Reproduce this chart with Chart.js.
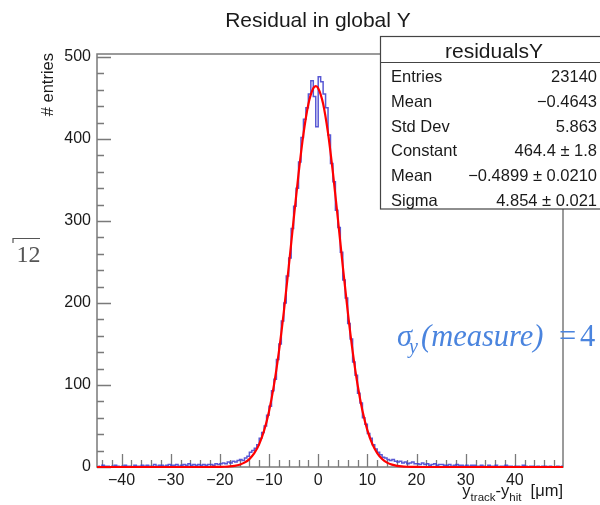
<!DOCTYPE html>
<html><head><meta charset="utf-8">
<script src="https://cdn.jsdelivr.net/npm/chart.js@4/dist/chart.umd.min.js"></script>
<style>html,body{margin:0;padding:0;background:#fff}canvas{display:block}</style>
</head><body>
<canvas id="c" width="600" height="505"></canvas>
<script>
// ---- data ----
const binLow = -45;
const binWidth = 0.5;
const counts = [
  1,0,2,1,1,0,1,2,1,0,
  1,2,1,1,0,2,1,1,2,1,
  2,1,1,3,1,2,2,1,2,3,
  2,2,3,1,2,3,2,4,2,3,
  2,3,2,3,2,3,3,2,4,3,
  4,5,4,6,5,7,6,8,9,8,
  11,13,18,20,23,27,35,42,50,63,
  74,93,107,131,150,178,200,233,255,291,
  318,340,372,402,424,438,455,471,452,415,
  476,470,455,438,405,370,348,313,292,262,
  228,206,175,156,128,112,90,78,60,52,
  41,35,27,22,18,15,12,11,9,8,
  9,7,6,7,5,6,4,5,6,4,
  4,3,5,3,4,2,3,4,2,3,
  3,2,2,3,1,2,3,2,2,1,
  2,1,2,2,1,1,2,1,0,2,
  1,1,2,0,1,1,2,1,1,0,
  1,1,0,2,1,0,1,1,0,1,
  0,1,1,0,1,0,0,1,0,1
];
const fitX = [-45,-22,-21,-20,-19,-18,-17,-16,-15,-14,-13,-12,-11,-10,-9,-8,-7,-6,-5,-4,-3,-2,-1,-0.5,0,1,2,3,4,5,6,7,8,9,10,11,12,13,14,15,16,17,18,19,20,21,22,49.8];
const fitY = [0,0.03,0.06,0.14,0.32,0.69,1.43,2.82,5.33,9.65,16.8,27.9,44.5,68.1,99.8,140.3,188.9,243.8,301.6,357.5,406.3,442.5,461.8,464.4,462.0,443.0,407.2,358.6,302.8,245.0,190.0,141.2,100.6,68.7,45.0,28.2,16.9,9.76,5.39,2.86,1.45,0.70,0.33,0.15,0.07,0.03,0.01,0];
const xTickValues = [-40,-30,-20,-10,0,10,20,30,40];
const yTickValues = [0,100,200,300,400,500];
const titleText = 'Residual in global Y';
const statsTitle = 'residualsY';
const statsLabels = ['Entries','Mean','Std Dev','Constant','Mean','Sigma'];
const statsValues = ['23140','\u22120.4643','5.863','464.4 \u00b1 1.8','\u22120.4899 \u00b1 0.0210','4.854 \u00b1 0.021'];

const histPoints = counts.map((c, i) => ({x: binLow + binWidth * (i + 0.5), y: c}));
const fitPoints = fitX.map((x, i) => ({x: x, y: fitY[i]}));

const SANS = '"Liberation Sans", Arial, Helvetica, sans-serif';
const SERIF = '"Liberation Serif", "Times New Roman", serif';

const decor = {
  id: 'decor',
  beforeDatasetsDraw(chart) {
    const {ctx, chartArea: a, scales: {x, y}} = chart;
    ctx.save();
    ctx.strokeStyle = '#7a7a7a';
    ctx.lineWidth = 1.5;
    ctx.strokeRect(a.left, a.top, a.right - a.left, a.bottom - a.top);
    ctx.beginPath();
    for (let v = -44; v <= 48; v += 2) {
      const px = Math.round(x.getPixelForValue(v)) + 0.5;
      const len = (v % 10 === 0) ? 13 : 7;
      ctx.moveTo(px, a.bottom); ctx.lineTo(px, a.bottom - len);
    }
    for (let v = 0; v <= 500; v += 20) {
      const py = Math.round(y.getPixelForValue(v)) + 0.5;
      const len = (v % 100 === 0) ? 14 : 7;
      ctx.moveTo(a.left, py); ctx.lineTo(a.left + len, py);
    }
    ctx.lineWidth = 1.3;
    ctx.stroke();
    ctx.restore();
  },
  afterDraw(chart) {
    const ctx = chart.ctx;
    ctx.save();
    // title
    ctx.fillStyle = '#1a1a1a';
    ctx.font = '21px ' + SANS;
    ctx.textAlign = 'center';
    ctx.textBaseline = 'alphabetic';
    ctx.fillText(titleText, 318, 27);

    // stats box
    ctx.fillStyle = '#fff';
    ctx.fillRect(380, 36, 240, 173);
    ctx.strokeStyle = '#444';
    ctx.lineWidth = 1.2;
    ctx.strokeRect(380.5, 36.5, 240, 172.5);
    ctx.beginPath(); ctx.moveTo(380, 62.5); ctx.lineTo(600, 62.5); ctx.stroke();
    ctx.fillStyle = '#1a1a1a';
    ctx.font = '21px ' + SANS;
    ctx.textAlign = 'center';
    ctx.fillText(statsTitle, 494, 57.5);
    ctx.font = '16.5px ' + SANS;
    for (let i = 0; i < statsLabels.length; i++) {
      const yb = 82 + i * 24.75;
      ctx.textAlign = 'left';
      ctx.fillText(statsLabels[i], 391, yb);
      ctx.textAlign = 'right';
      ctx.fillText(statsValues[i], 597, yb);
    }

    // y axis title
    ctx.save();
    ctx.translate(52.5, 53);
    ctx.rotate(-Math.PI / 2);
    ctx.textAlign = 'right';
    ctx.font = '16.5px ' + SANS;
    ctx.fillText('# entries', 0, 0);
    ctx.restore();

    // x axis title with subscripts
    const big = '16.5px ' + SANS, small = '11.5px ' + SANS;
    const parts = [['y', big, 0], ['track', small, 5], ['-y', big, 0], ['hit', small, 5], ['  [\u03bcm]', big, 0]];
    let total = 0;
    parts.forEach(p => { ctx.font = p[1]; total += ctx.measureText(p[0]).width; });
    let xx = 563 - total;
    ctx.textAlign = 'left';
    parts.forEach(p => { ctx.font = p[1]; ctx.fillText(p[0], xx, 496 + p[2]); xx += ctx.measureText(p[0]).width; });

    // left fragment: sqrt(12)
    ctx.fillStyle = '#555';
    ctx.strokeStyle = '#555';
    ctx.font = '24px ' + SERIF;
    ctx.fillText('12', 16.5, 261.5);
    ctx.lineWidth = 1.2;
    ctx.beginPath(); ctx.moveTo(13, 243); ctx.lineTo(13, 238.5); ctx.lineTo(40, 238.5); ctx.stroke();

    // sigma annotation
    ctx.fillStyle = '#4a84de';
    ctx.font = 'italic 30.5px ' + SERIF;
    ctx.fillText('\u03c3', 397, 346);
    ctx.font = 'italic 20px ' + SERIF;
    ctx.fillText('y', 409, 353);
    ctx.font = 'italic 30.5px ' + SERIF;
    ctx.fillText('(measure)', 421, 346);
    ctx.font = '30.5px ' + SERIF;
    ctx.fillText('=', 559, 346);
    ctx.fillText('4', 580, 346);
    ctx.restore();
  }
};

new Chart(document.getElementById('c'), {
  type: 'line',
  data: {
    datasets: [
      {label: 'fit', data: fitPoints, borderColor: '#ff0000', borderWidth: 2.2, pointRadius: 0,
       cubicInterpolationMode: 'monotone', fill: false, clip: false, order: 0},
      {label: 'residualsY', data: histPoints, borderColor: 'rgba(60,60,205,0.85)', borderWidth: 1.5,
       pointRadius: 0, stepped: 'middle', fill: false, clip: false, order: 1}
    ]
  },
  options: {
    responsive: false,
    animation: false,
    devicePixelRatio: 1,
    layout: {padding: {left: 0, top: 54, right: 37, bottom: 0}},
    plugins: {legend: {display: false}, tooltip: {enabled: false}, title: {display: false}},
    scales: {
      x: {
        type: 'linear', min: -45, max: 49.8,
        grid: {display: false, drawTicks: false}, border: {display: false},
        ticks: {autoSkip: false, maxRotation: 0, padding: 4, color: '#1a1a1a',
                font: {family: SANS, size: 16},
                callback: v => (v < 0 ? '\u2212' + Math.abs(v) : String(v))},
        afterBuildTicks: s => { s.ticks = xTickValues.map(v => ({value: v})); },
        afterFit: s => { s.height = 38; }
      },
      y: {
        type: 'linear', min: 0, max: 503.7,
        grid: {display: false, drawTicks: false}, border: {display: false},
        ticks: {padding: 6, color: '#1a1a1a', font: {family: SANS, size: 16}},
        afterBuildTicks: s => { s.ticks = yTickValues.map(v => ({value: v})); },
        afterFit: s => { s.width = 97; }
      }
    }
  },
  plugins: [decor]
});
</script>
</body></html>
